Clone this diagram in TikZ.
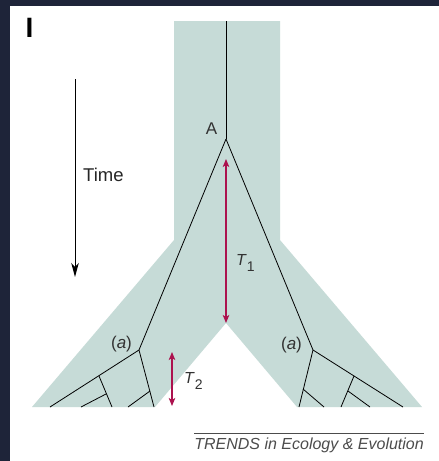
\documentclass[tikz,border=0pt]{standalone}
\usepackage{fontspec}
\setmainfont{Liberation Sans}
\usetikzlibrary{arrows.meta}

\definecolor{frame}{RGB}{30,36,57}
\definecolor{band}{RGB}{198,219,215}
\definecolor{spanred}{RGB}{172,18,78}
\definecolor{labelgray}{RGB}{50,50,50}

\newcommand{\spanlabel}[1]{\textit{T}\raisebox{-6.5pt}{\fontsize{14}{16}\selectfont #1}}

\begin{document}
\begin{tikzpicture}[
  x=1pt, y=-1pt,
  branch/.style={draw=black, line width=0.8pt},
  span/.style={
    spanred,
    line width=1.4pt,
    {Stealth[length=8pt,width=6.5pt,inset=2pt]}-{Stealth[length=8pt,width=6.5pt,inset=2pt]}
  },
  timearrow/.style={line width=1pt, -{Stealth[length=14pt,width=7.5pt,inset=4pt]}},
  label/.style={inner sep=0pt, text=labelgray, font=\fontsize{17}{20}\selectfont},
  caption/.style={inner sep=0pt, text=black!70, font=\fontsize{16}{19}\selectfont\itshape}
]

% =========================
% Frame and band
% =========================
\fill[frame] (0,0) rectangle (439,461);
\fill[white] (10,6) rectangle (439,461);
\useasboundingbox (0,0) rectangle (439,461);

\fill[band] (174,21) -- (280,21) -- (280,240) -- (422,407) -- (297,407)
  -- (226,323) -- (155,407) -- (32,407) -- (174,240) -- cycle;

% =========================
% Tree
% =========================
\coordinate (root) at (226,21);
\coordinate (A) at (226,139);
\coordinate (L) at (139,350);
\coordinate (R) at (313,350);

% left subtree
\coordinate (lout) at (50,407);
\coordinate (lin) at (154,407);
\coordinate (lb1) at (99,376);
\coordinate (lb1e) at (112,407);
\coordinate (lb2) at (106,394);
\coordinate (lb2e) at (81,407);
\coordinate (lb3) at (150,391);
\coordinate (lb3e) at (128,407);

% right subtree
\coordinate (rout) at (403,407);
\coordinate (rin) at (299,407);
\coordinate (rb1) at (354,376);
\coordinate (rb1e) at (341,407);
\coordinate (rb2) at (348,391);
\coordinate (rb2e) at (370,407);
\coordinate (rb3) at (303,389);
\coordinate (rb3e) at (324,407);

\draw[branch] (root) -- (A);
\draw[branch] (A) -- (L);
\draw[branch] (A) -- (R);

\draw[branch] (L) -- (lout);
\draw[branch] (L) -- (lin);
\draw[branch] (lb1) -- (lb1e);
\draw[branch] (lb2) -- (lb2e);
\draw[branch] (lb3) -- (lb3e);

\draw[branch] (R) -- (rout);
\draw[branch] (R) -- (rin);
\draw[branch] (rb1) -- (rb1e);
\draw[branch] (rb2) -- (rb2e);
\draw[branch] (rb3) -- (rb3e);

% =========================
% Labels and spans
% =========================
\node[inner sep=0pt, anchor=base, font=\fontsize{28}{30}\selectfont\bfseries] (panel) at (29.5,37) {I};
\node[label, anchor=base] (alab) at (211.5,134) {A};
\node[label, anchor=base] (lalab) at (121.5,348) {(\textit{a})};
\node[label, anchor=base] (ralab) at (291.5,349) {(\textit{a})};

\coordinate (t1top) at (226,159);
\coordinate (t1bot) at (226,323);
\coordinate (t2top) at (172,352);
\coordinate (t2bot) at (172,406);
\draw[span] (t1top) -- (t1bot);
\draw[span] (t2top) -- (t2bot);
\node[label, anchor=base west, font=\fontsize{16}{19}\selectfont] (t1lab) at (236,265) {\spanlabel{1}};
\node[label, anchor=base west, font=\fontsize{16}{19}\selectfont] (t2lab) at (184,383) {\spanlabel{2}};

% time axis
\coordinate (tstart) at (75,79);
\coordinate (tend) at (75,277);
\draw[timearrow] (tstart) -- (tend);
\node[label, anchor=base west, text=black!85, font=\fontsize{18.5}{21}\selectfont] (timelab) at (83,181) {Time};

% caption
\node[caption, anchor=base east] (cap) at (424,449) {TRENDS in Ecology \& Evolution};
\draw[black!70, line width=1.2pt] ([yshift=3.5pt]cap.north west) -- ([yshift=3.5pt]cap.north east);

\end{tikzpicture}
\end{document}
